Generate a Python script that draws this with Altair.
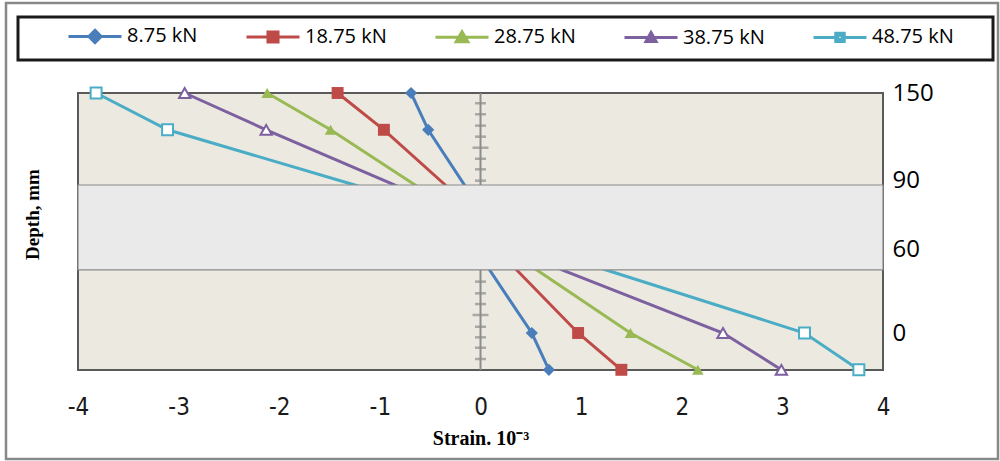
import altair as alt
import pandas as pd

# ---------------- data ----------------
loads = ["8.75 kN", "18.75 kN", "28.75 kN", "38.75 kN", "48.75 kN"]
colors = ["#4A7EBB", "#BE4B48", "#98B954", "#7D60A0", "#4BACC6"]

# vertical position of each reading (schematic depth scale, 150 top, 0 lower gauge)
depth_pos = [150, 127, 92.5, 39.4, 0, -23]
has_marker = [True, True, False, False, True, True]

strain_875 = [-0.69, -0.52, -0.16, 0.09, 0.51, 0.68]
strain_1875 = [-1.42, -0.96, -0.35, 0.36, 0.97, 1.40]
strain_2875 = [-2.12, -1.49, -0.65, 0.56, 1.49, 2.16]
strain_3875 = [-2.94, -2.13, -0.85, 0.81, 2.41, 2.99]
strain_4875 = [-3.82, -3.11, -1.25, 1.25, 3.22, 3.76]

x_ticks = [-4, -3, -2, -1, 0, 1, 2, 3, 4]
depth_tick_pos = [150, 95.6, 51.9, 0]
depth_tick_text = ["150", "90", "60", "0"]

band_top = [92.5]
band_bottom = [39.4]

center_major = [115.8, 11.25]
center_minor = [143.6, 136.7, 129.6, 122.7, 108.9, 102.3, 95.2,
                32.1, 24.8, 18.1, 3.9, -2.7, -9.2, -16.25]

# ---------------- tables ----------------
series = [strain_875, strain_1875, strain_2875, strain_3875, strain_4875]
rows = []
for load, vals in zip(loads, series):
    for j, (x, y, m) in enumerate(zip(vals, depth_pos, has_marker)):
        rows.append({"load": load, "strain": x, "depth": y, "marker": m, "order": j})
df = pd.DataFrame(rows)

band_df = pd.DataFrame({"top": band_top, "bottom": band_bottom})
major_df = pd.DataFrame({"v": center_major})
minor_df = pd.DataFrame({"v": center_minor})
one_df = pd.DataFrame({"a": [0]})

# ---------------- scales / axes ----------------
xscale = alt.Scale(domain=[-4, 4], nice=False, zero=False)
yscale = alt.Scale(domain=[-23.125, 150], nice=False, zero=False)

narrow = "Liberation Sans Narrow, DejaVu Sans Condensed, Arial Narrow, sans-serif"

xaxis = alt.Axis(values=x_ticks, labelExpr="'' + datum.value", labelFont=narrow,
                 labelFontSize=24, labelColor="#1a1a1a", ticks=False, tickSize=0,
                 domain=False, grid=False, labelPadding=37, labelBaseline="middle",
                 labelFlush=False,
                 title="Strain. 10\u207b\u00b3", titleFont="Liberation Serif",
                 titleFontWeight="bold", titleFontSize=20, titleColor="#000000",
                 titleY=68, titleBaseline="middle")

lab_expr = " : ".join(
    f"datum.value == {p} ? '{t}'" for p, t in zip(depth_tick_pos, depth_tick_text)
) + " : ''"

yaxis = alt.Axis(orient="right", values=depth_tick_pos, labelExpr=lab_expr,
                 labelFont="Open Sans", labelFontSize=24, labelColor="#000000",
                 ticks=False, tickSize=0, domain=False, grid=False, labelPadding=9,
                 title="Depth, mm", titleFont="Liberation Serif", titleFontWeight="bold",
                 titleFontSize=19, titleColor="#000000", titleAngle=270,
                 titleX=-851, titleY=121, titleAlign="center", titleBaseline="middle")


def X(field):
    return alt.X(field, type="quantitative", scale=xscale, axis=xaxis)


def Y(field):
    return alt.Y(field, type="quantitative", scale=yscale, axis=yaxis)


color_scale = alt.Scale(domain=loads, range=colors)
shape_scale = alt.Scale(domain=loads,
                        range=["diamond", "square", "triangle-up", "triangle-up", "square"])
size_scale = alt.Scale(domain=loads, range=[150, 120, 150, 100, 60])

legend_paths = [
    "M-1,0H1M0,-0.23L0.23,0L0,0.23L-0.23,0Z",
    "M-1,0H1M-0.19,-0.19H0.19V0.19H-0.19Z",
    "M-1,0H1M0,-0.21L0.22,0.17H-0.22Z",
    "M-1,0H1M0,-0.19L0.19,0.15H-0.19Z",
    "M-1,0H-0.16M0.16,0H1M-0.16,-0.16H0.16V0.16H-0.16ZM-0.08,-0.08V0.08H0.08V-0.08Z",
]
legend_shape_scale = alt.Scale(domain=loads, range=legend_paths)

base = alt.Chart(df)

# centre axis (x = 0) with its ticks
center_line = alt.Chart(one_df).mark_rule(color="#8c8c8c", strokeWidth=2).encode(
    x=alt.X(datum=0, type="quantitative", scale=xscale, axis=xaxis),
    y=alt.Y(datum=150, type="quantitative", scale=yscale, axis=yaxis),
    y2=alt.Y2(datum=-23.125),
)
minor_ticks = alt.Chart(minor_df).mark_tick(orient="horizontal", size=11, thickness=2.5,
                                            color="#8c8c8c").encode(
    x=alt.X(datum=0, type="quantitative", scale=xscale, axis=xaxis), y=Y("v"))
major_ticks = alt.Chart(major_df).mark_tick(orient="horizontal", size=16, thickness=2.5,
                                            color="#8c8c8c").encode(
    x=alt.X(datum=0, type="quantitative", scale=xscale, axis=xaxis), y=Y("v"))

lines = base.mark_line(strokeWidth=3).encode(
    x=X("strain"), y=Y("depth"), order="order:Q",
    color=alt.Color("load:N", scale=color_scale, legend=None),
)

band = alt.Chart(band_df).mark_rect(fill="#eaeaea", stroke="#8a8a8a", strokeWidth=1.2).encode(
    x=alt.X(datum=-4, type="quantitative", scale=xscale, axis=xaxis),
    x2=alt.X2(datum=4),
    y=Y("top"), y2="bottom",
)

pts_filled = base.transform_filter(
    alt.FieldOneOfPredicate(field="load", oneOf=loads[:3])
).transform_filter("datum.marker").mark_point(filled=True, opacity=1).encode(
    x=X("strain"), y=Y("depth"),
    color=alt.Color("load:N", scale=color_scale, legend=None),
    shape=alt.Shape("load:N", scale=shape_scale, legend=None),
    size=alt.Size("load:N", scale=size_scale, legend=None),
)

pts_hollow = base.transform_filter(
    alt.FieldOneOfPredicate(field="load", oneOf=loads[3:])
).transform_filter("datum.marker").mark_point(filled=False, fill="white", strokeWidth=2,
                                               opacity=1).encode(
    x=X("strain"), y=Y("depth"),
    color=alt.Color("load:N", scale=color_scale, legend=None),
    shape=alt.Shape("load:N", scale=shape_scale, legend=None),
    size=alt.Size("load:N", scale=size_scale, legend=None),
)

leg = alt.Legend(orient="none", legendX=-11, legendY=-85, direction="horizontal",
                 columns=5, columnPadding=42, title=None, labelFont="Open Sans",
                 labelFontSize=20, labelColor="#000000", labelOffset=4,
                 symbolSize=2809, symbolStrokeWidth=3, symbolOpacity=1, padding=0,
                 symbolFillColor={"expr": "scale('color', datum.value)"},
                 symbolStrokeColor={"expr": "scale('color', datum.value)"})

legend_layer = base.transform_filter("datum.order == 0").mark_point(
    filled=True, opacity=0, size=2809, strokeWidth=3).encode(
    x=X("strain"), y=Y("depth"),
    color=alt.Color("load:N", scale=color_scale, legend=leg),
    shape=alt.Shape("load:N", scale=legend_shape_scale, legend=leg),
)

legend_box = alt.Chart(one_df).mark_rect(fill=None, stroke="#1a1a1a", strokeWidth=3).encode(
    x=alt.value(-60), x2=alt.value(915), y=alt.value(-76), y2=alt.value(-33))

outer_box = alt.Chart(one_df).mark_rect(fill=None, stroke="#888888", strokeWidth=2.5).encode(
    x=alt.value(-72), x2=alt.value(920), y=alt.value(-90), y2=alt.value(366))

chart = alt.layer(
    center_line, minor_ticks, major_ticks, lines, band, pts_filled, pts_hollow,
    legend_layer, legend_box, outer_box,
).resolve_scale(shape="independent").properties(
    width=805, height=277,
    padding={"left": 78, "top": 93, "right": 117, "bottom": 91},
    autosize=alt.AutoSizeParams(type="none"),
    background="white",
).configure_view(fill="#ECEAE0", stroke="#5a5a5a", strokeWidth=2)

chart.save("out.html", embed_options={"renderer": "svg", "actions": False})
